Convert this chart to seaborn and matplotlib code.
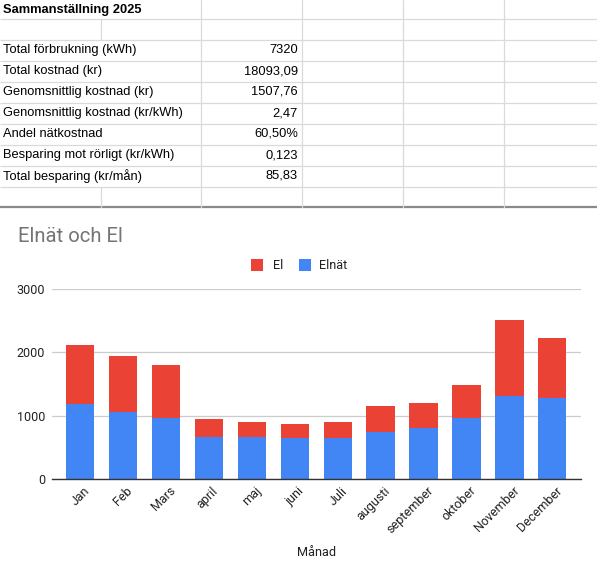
import matplotlib
matplotlib.use("Agg")
import matplotlib.pyplot as plt
import matplotlib.transforms as mtransforms
import seaborn as sns
import pandas as pd
import numpy as np

# ---------------- data ----------------
months = ["Jan", "Feb", "Mars", "april", "maj", "juni", "Juli", "augusti",
          "september", "oktober", "November", "December"]
elnat = [1183, 1057, 962, 656, 660, 645, 645, 740, 803, 962, 1310, 1278]
el = [935, 887, 839, 290, 238, 221, 253, 411, 396, 522, 1204, 951]

summary_title = "Sammanställning 2025"
summary_labels = ["Total förbrukning (kWh)", "Total kostnad (kr)",
                  "Genomsnittlig kostnad (kr)", "Genomsnittlig kostnad (kr/kWh)",
                  "Andel nätkostnad", "Besparing mot rörligt (kr/kWh)",
                  "Total besparing (kr/mån)"]
summary_values = ["7320", "18093,09", "1507,76", "2,47", "60,50%", "0,123", "85,83"]

chart_title = "Elnät och El"
series_names = ["El", "Elnät"]
x_label = "Månad"
y_ticks = [0, 1000, 2000, 3000]

RED = "#EA4335"
BLUE = "#4285F4"

sns.set_theme(style="white")
plt.rcParams["font.family"] = ["Roboto", "DejaVu Sans"]

W, H = 597, 571
fig = plt.figure(figsize=(W / 100, H / 100), dpi=100)
fig.patch.set_facecolor("white")

# overlay axis in pixel coordinates (for table, title, legend)
ov = fig.add_axes([0, 0, 1, 1])
ov.set_xlim(0, W)
ov.set_ylim(H, 0)
ov.axis("off")

# ---------------- spreadsheet table ----------------
grid = "#dadada"
row_lines = [18.5, 39.5, 60.5, 81.5, 102.5, 123.5, 144.5, 165.5, 186.5]
for y in row_lines:
    ov.plot([0, W], [y, y], color=grid, lw=0.9, solid_capstyle="butt")
ov.plot([0, W], [207, 207], color="#8a8a8a", lw=1.6, solid_capstyle="butt")
for x in [200.5, 302, 402.5, 503.5]:
    ov.plot([x, x], [0, 207], color=grid, lw=0.9)
ov.plot([100.5, 100.5], [18.5, 39.5], color=grid, lw=0.9)
ov.plot([100.5, 100.5], [186.5, 207], color=grid, lw=0.9)

tfont = ["Liberation Sans", "DejaVu Sans"]
ov.text(3, 9.5, summary_title, fontsize=9.3, fontweight="bold", family=tfont,
        va="center", ha="left", color="#000000")
row_centers = [50, 71, 92, 113, 134, 155, 176]
for yc, lab, val in zip(row_centers, summary_labels, summary_values):
    ov.text(3, yc, lab, fontsize=9.3, family=tfont, va="center", ha="left", color="#000000")
    ov.text(298, yc, val, fontsize=9.3, family=tfont, va="center", ha="right", color="#000000")

# ---------------- chart title & legend ----------------
ov.text(18, 237, chart_title, fontsize=14.6, color="#757575", va="center", ha="left")
ov.add_patch(plt.Rectangle((251.3, 259.3), 11.5, 11.4, color=RED, lw=0))
ov.text(272.5, 265.2, series_names[0], fontsize=9.2, color="#222222", va="center", ha="left")
ov.add_patch(plt.Rectangle((299.3, 259.3), 11.2, 11.4, color=BLUE, lw=0))
ov.text(319, 265.2, series_names[1], fontsize=9.2, color="#222222", va="center", ha="left")

# ---------------- bar chart ----------------
left, right = 51.5, 580.7
top, bottom = 289.3, 478.7
ax = fig.add_axes([left / W, (H - bottom) / H, (right - left) / W, (bottom - top) / H])

df = pd.DataFrame({"Månad": months, "El": el, "Elnät": elnat})
df["Total"] = df["El"] + df["Elnät"]

sns.barplot(data=df, x="Månad", y="Total", color=RED, width=0.657,
            saturation=1, ax=ax, zorder=2)
sns.barplot(data=df, x="Månad", y="Elnät", color=BLUE, width=0.657,
            saturation=1, ax=ax, zorder=3)
for p in ax.patches:
    p.set_linewidth(0)

ax.set_xlim(-0.664, 11.66)
ax.set_ylim(0, 3000)
ax.set_yticks(y_ticks)
ax.set_yticklabels([str(t) for t in y_ticks], fontsize=9, color="#222222")
ax.yaxis.grid(True, color="#cccccc", lw=0.9)
ax.set_axisbelow(True)
for s in ["top", "right", "left"]:
    ax.spines[s].set_visible(False)
ax.spines["bottom"].set_color("#333333")
ax.spines["bottom"].set_linewidth(1.0)
ax.spines["bottom"].set_zorder(5)
ax.tick_params(axis="both", length=0)
ax.tick_params(axis="y", pad=4.6)
ax.tick_params(axis="x", pad=4)
ax.set_xticks(range(len(months)))
ax.set_xticklabels(months, rotation=45, ha="right", rotation_mode="anchor",
                   fontsize=9, color="#222222")
shift = mtransforms.ScaledTranslation(3 / 100, 0, fig.dpi_scale_trans)
for lbl in ax.get_xticklabels():
    lbl.set_transform(lbl.get_transform() + shift)
ax.set_ylabel("")
ax.set_xlabel(x_label, fontsize=9.2, color="#222222")
ax.xaxis.label.set_va("center")
ax.xaxis.set_label_coords(0.5, -(553 - bottom) / (bottom - top))

fig.savefig("out.png", dpi=100, facecolor="white")
